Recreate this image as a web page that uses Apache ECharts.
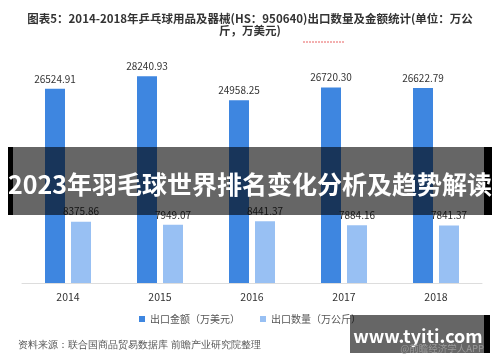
<!DOCTYPE html>
<html>
<head>
<meta charset="utf-8">
<script src="https://cdn.jsdelivr.net/npm/echarts@6/dist/echarts.min.js"></script>
<style>
html,body{margin:0;padding:0;background:#fff;}
#c{width:500px;height:362px;}
</style>
</head>
<body>
<div id="c"></div>
<script>
var categories = ['2014', '2015', '2016', '2017', '2018'];
var exportValue = [26524.91, 28240.93, 24958.25, 26720.30, 26622.79];
var exportQty = [8375.86, 7949.07, 8441.37, 7884.16, 7841.37];
var seriesNames = ['出口金额（万美元）', '出口数量（万公斤）'];
var titleText = '图表5：2014-2018年乒乓球用品及器械(HS：950640)出口数量及金额统计(单位：万公\n斤，万美元)';
var sourceText = '资料来源：联合国商品贸易数据库 前瞻产业研究院整理';
var bannerText = '2023年羽毛球世界排名变化分析及趋势解读';
var siteText = 'www.tyiti.com';
var appText = '@前瞻经济学人APP';

var FONT = '"Noto Sans CJK SC", "Noto Sans", sans-serif';
var chart = echarts.init(document.getElementById('c'));
chart.setOption({
  animation: false,
  backgroundColor: '#fff',
  textStyle: { fontFamily: FONT },
  title: {
    text: titleText,
    left: 'center',
    top: 8,
    textStyle: { fontSize: 11.5, fontWeight: 'bold', color: '#333', lineHeight: 12, fontFamily: FONT }
  },
  grid: { left: 22, right: 18, top: 63.4, bottom: 79 },
  legend: {
    data: seriesNames,
    top: 309,
    left: 'center',
    icon: 'rect',
    itemWidth: 6,
    itemHeight: 6,
    itemGap: 20,
    textStyle: { fontSize: 10, color: '#555', fontFamily: FONT }
  },
  xAxis: {
    type: 'category',
    data: categories,
    axisLine: { lineStyle: { color: '#ddd' } },
    axisTick: { show: false },
    axisLabel: { fontSize: 10.5, color: '#333', margin: 9, fontFamily: FONT }
  },
  yAxis: {
    type: 'value',
    min: 0,
    max: 30000,
    show: false,
    splitLine: { show: false }
  },
  series: [
    {
      name: seriesNames[0],
      type: 'bar',
      data: exportValue,
      barWidth: 20,
      barGap: '30%',
      itemStyle: { color: '#3e86e0' },
      label: { show: true, position: 'top', fontSize: 10, color: '#333', distance: 5,
        formatter: function (p) { return p.value.toFixed(2); } }
    },
    {
      name: seriesNames[1],
      type: 'bar',
      data: exportQty,
      barWidth: 20,
      itemStyle: { color: '#98c0f3' },
      label: { show: true, position: 'top', fontSize: 10, color: '#333', distance: 5,
        formatter: function (p) { return p.value.toFixed(2); } }
    }
  ],
  graphic: [
    { type: 'text', left: 18, top: 340, z: 50,
      style: { text: sourceText, fontSize: 9.5, fill: '#555', font: '9.5px ' + FONT } },
    { type: 'line', z: 50, shape: { x1: 303, y1: 42, x2: 345, y2: 42 },
      style: { stroke: '#e86060', lineWidth: 1, lineDash: [2, 1] } },
    { type: 'rect', z: 100, shape: { x: 8, y: 147, width: 484, height: 68 },
      style: { fill: 'rgba(0,0,0,0.6)' } },
    { type: 'rect', z: 101, shape: { x: 8, y: 147, width: 5, height: 68 },
      style: { fill: '#000' } },
    { type: 'rect', z: 101, shape: { x: 484, y: 147, width: 8, height: 68 },
      style: { fill: '#000' } },
    { type: 'text', z: 102, x: 250, y: 184,
      style: { text: bannerText, fill: '#fff', font: 'bold 25px ' + FONT,
        textAlign: 'center', textVerticalAlign: 'middle' } },
    { type: 'rect', z: 100, shape: { x: 350, y: 315, width: 135, height: 38 },
      style: { fill: 'rgba(0,0,0,0.6)' } },
    { type: 'rect', z: 101, shape: { x: 484, y: 315, width: 6, height: 38 },
      style: { fill: '#000' } },
    { type: 'text', z: 102, x: 418, y: 336,
      style: { text: siteText, fill: '#fff', font: 'bold 18px ' + FONT,
        textAlign: 'center', textVerticalAlign: 'middle' } },
    { type: 'text', z: 102, x: 484, y: 348,
      style: { text: appText, fill: '#999', font: '9.5px ' + FONT,
        textAlign: 'right', textVerticalAlign: 'middle' } }
  ]
});
</script>
</body>
</html>
